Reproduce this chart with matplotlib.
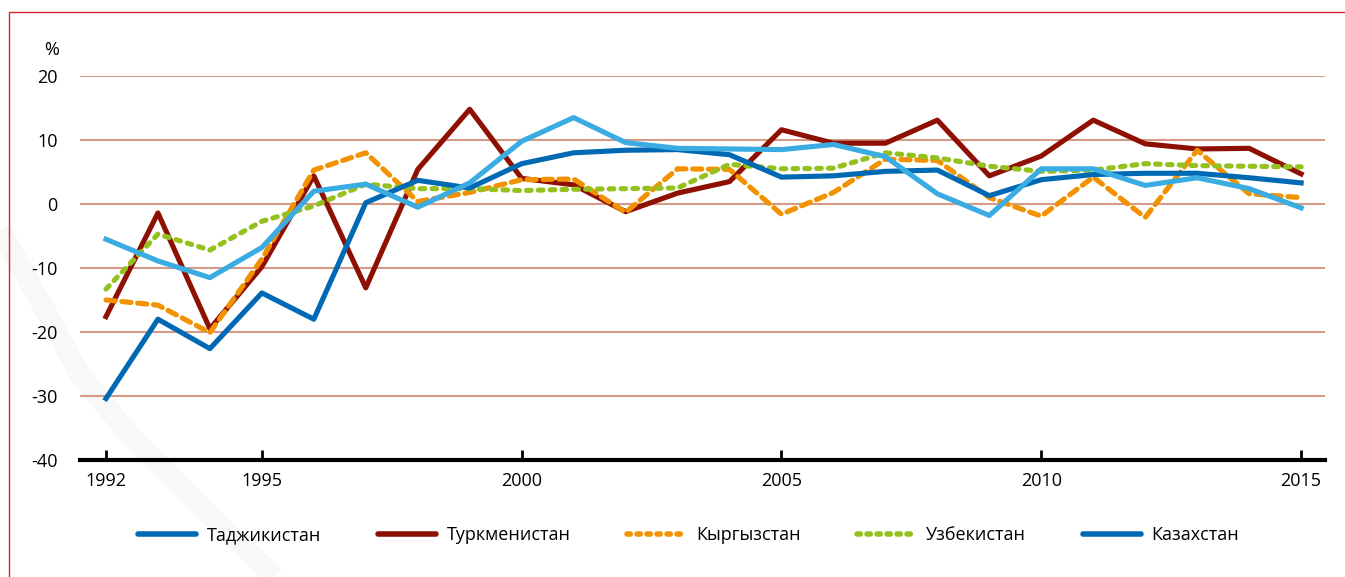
import numpy as np
import matplotlib.pyplot as plt
from matplotlib.lines import Line2D

plt.rcParams['font.family'] = ['Open Sans', 'DejaVu Sans']
plt.rcParams['axes.unicode_minus'] = False

years = np.arange(1992, 2016)

tajikistan = [-30.4, -18.0, -22.6, -13.9, -18.0, 0.2, 3.7, 2.5, 6.3, 8.0, 8.4, 8.5, 7.7, 4.2,
              4.4, 5.1, 5.3, 1.3, 3.8, 4.6, 4.8, 4.8, 4.1, 3.3]
turkmenistan = [-17.6, -1.4, -19.5, -9.8, 4.4, -13.1, 5.4, 14.8, 4.0, 3.0, -1.2, 1.7, 3.5, 11.6,
                9.5, 9.5, 13.1, 4.4, 7.5, 13.1, 9.4, 8.6, 8.7, 4.7]
kyrgyzstan = [-15.0, -15.8, -20.1, -8.6, 5.3, 8.0, 0.4, 1.8, 3.8, 3.9, -1.3, 5.5, 5.4, -1.6,
              1.8, 7.0, 6.8, 1.0, -1.9, 4.2, -2.1, 8.4, 1.6, 1.0]
uzbekistan = [-13.3, -4.7, -7.2, -2.7, -0.3, 3.1, 2.4, 2.4, 2.1, 2.3, 2.4, 2.5, 6.2, 5.5,
              5.6, 8.0, 7.2, 5.9, 5.1, 5.3, 6.3, 6.0, 5.9, 5.8]
kazakhstan = [-5.5, -8.9, -11.5, -6.8, 2.0, 3.1, -0.5, 3.3, 9.8, 13.5, 9.6, 8.7, 8.6, 8.5,
              9.3, 7.4, 1.6, -1.8, 5.5, 5.5, 2.9, 4.1, 2.4, -0.6]

labels = ["Таджикистан", "Туркменистан", "Кыргызстан", "Узбекистан", "Казахстан"]
xticks = [1992, 1995, 2000, 2005, 2010, 2015]
yticks = [-40, -30, -20, -10, 0, 10, 20]

c_dblue = "#0069B4"
c_red = "#8E1003"
c_orange = "#F39200"
c_green = "#95C11F"
c_lblue = "#3AACE2"

fig = plt.figure(figsize=(13.45, 5.77), dpi=100)

# faint decorative arc on the left
arc_x = np.array([0, 20, 45, 80, 134, 194, 275]) / 1345
arc_y = 1 - np.array([230, 265, 310, 375, 440, 500, 577]) / 577
fig.add_artist(Line2D(arc_x, arc_y, color="#F8F8F8", lw=15, zorder=0,
                      solid_capstyle="butt", solid_joinstyle="round"))

# red frame
fig.add_artist(Line2D([9 / 1345, 9 / 1345, 1.0], [0.0, 1 - 12 / 577, 1 - 12 / 577],
                      color="#D9232D", lw=1.0, zorder=1))

ax = fig.add_axes([80 / 1345, 1 - 460 / 577, 1245 / 1345, 384 / 577])
ax.patch.set_alpha(0)

lw = 3.7
ax.plot(years, tajikistan, color=c_dblue, lw=lw, zorder=4)
ax.plot(years, turkmenistan, color=c_red, lw=lw, zorder=3)
ax.plot(years, kyrgyzstan, color=c_orange, lw=lw, dashes=(1.8, 1.3),
        dash_capstyle="round", zorder=3)
ax.plot(years, uzbekistan, color=c_green, lw=lw, dashes=(0.9, 1.4),
        dash_capstyle="round", zorder=3)
ax.plot(years, kazakhstan, color=c_lblue, lw=lw, zorder=5)

ax.set_xlim(1991.5, 2015.46)
ax.set_ylim(-40, 20)
ax.set_yticks(yticks)
ax.set_xticks(xticks)
ax.yaxis.grid(True, color="#D49A85", lw=1.5)
ax.set_axisbelow(True)
for s in ["left", "right", "top"]:
    ax.spines[s].set_visible(False)
ax.spines["bottom"].set_linewidth(3)
ax.spines["bottom"].set_zorder(6)
ax.tick_params(axis="y", length=0, pad=16, labelsize=13)
ax.tick_params(axis="x", direction="in", length=7, width=2, pad=9, labelsize=13)

ax.text(-0.017, 1.045, "%", transform=ax.transAxes, ha="right", va="bottom", fontsize=13)

handles = [
    Line2D([], [], color=c_dblue, lw=4, solid_capstyle="round"),
    Line2D([], [], color=c_red, lw=4, solid_capstyle="round"),
    Line2D([], [], color=c_orange, lw=4, dashes=(0.6, 1.2), dash_capstyle="round"),
    Line2D([], [], color=c_green, lw=4, dashes=(0.6, 1.2), dash_capstyle="round"),
    Line2D([], [], color=c_dblue, lw=4, solid_capstyle="round"),
]
fig.legend(handles, labels, loc="center", bbox_to_anchor=(0.512, 1 - 535 / 577), ncol=5,
           frameon=False, fontsize=13, handlelength=3.2, handletextpad=0.6,
           columnspacing=3.15)

fig.savefig("out.png", dpi=100)
